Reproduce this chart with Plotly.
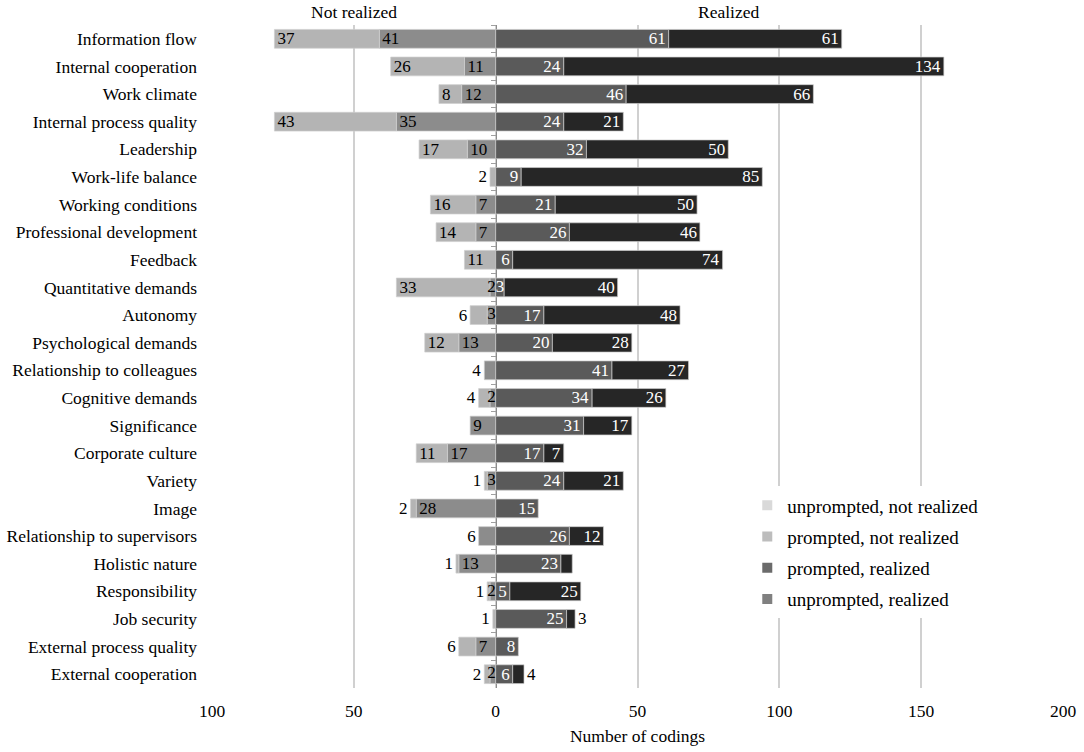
import plotly.graph_objects as go

categories = [
    "Information flow", "Internal cooperation", "Work climate", "Internal process quality",
    "Leadership", "Work-life balance", "Working conditions", "Professional development",
    "Feedback", "Quantitative demands", "Autonomy", "Psychological demands",
    "Relationship to colleagues", "Cognitive demands", "Significance", "Corporate culture",
    "Variety", "Image", "Relationship to supervisors", "Holistic nature",
    "Responsibility", "Job security", "External process quality", "External cooperation",
]
unprompted_not_realized = [37, 26, 8, 43, 17, 2, 16, 14, 11, 33, 6, 12, 0, 4, 0, 11, 1, 2, 0, 1, 1, 1, 6, 2]
prompted_not_realized = [41, 11, 12, 35, 10, 0, 7, 7, 0, 2, 3, 13, 4, 2, 9, 17, 3, 28, 6, 13, 2, 0, 7, 2]
prompted_realized = [61, 24, 46, 24, 32, 9, 21, 26, 6, 3, 17, 20, 41, 34, 31, 17, 24, 15, 26, 23, 5, 25, 8, 6]
unprompted_realized = [61, 134, 66, 21, 50, 85, 50, 46, 74, 40, 48, 28, 27, 26, 17, 7, 21, 0, 12, 4, 25, 3, 0, 4]
# segments the original leaves without a number
unlabeled = {("Holistic nature", "unprompted, realized")}

tick_vals = [-100, -50, 0, 50, 100, 150, 200]
tick_text = ["100", "50", "0", "50", "100", "150", "200"]

FONT = "Liberation Serif, Times New Roman, serif"
bar_colors = {
    "prompted, not realized": "#8c8c8c",
    "unprompted, not realized": "#b4b4b4",
    "prompted, realized": "#5a5a5a",
    "unprompted, realized": "#262626",
}
legend_colors = {
    "unprompted, not realized": "#d9d9d9",
    "prompted, not realized": "#bdbdbd",
    "prompted, realized": "#6b6b6b",
    "unprompted, realized": "#808080",
}

# inner segment first, so plotly stacks outward from zero
stacks = [
    ("prompted, not realized", prompted_not_realized, -1, "#000000"),
    ("unprompted, not realized", unprompted_not_realized, -1, "#000000"),
    ("prompted, realized", prompted_realized, 1, "#ffffff"),
    ("unprompted, realized", unprompted_realized, 1, "#ffffff"),
]


def outermost(inner, outer):
    return ["outer" if o else ("inner" if i else None) for i, o in zip(inner, outer)]


out_neg = outermost(prompted_not_realized, unprompted_not_realized)
out_pos = outermost(prompted_realized, unprompted_realized)

fig = go.Figure()
# labels of tiny inner segments, drawn on top, hugging the zero line
small_x, small_y, small_txt, small_col = [], [], [], []
for k, (name, vals, sign, txtcol) in enumerate(stacks):
    which = "inner" if k % 2 == 0 else "outer"
    outer_flags = out_neg if sign < 0 else out_pos
    xs, texts, pos = [], [], []
    for cat, v, flag in zip(categories, vals, outer_flags):
        xs.append(sign * v if v else None)
        label = "" if (not v or (cat, name) in unlabeled) else str(v)
        if flag == which and v <= 6:
            pos.append("outside")
        elif which == "inner" and 0 < v <= 3:
            pos.append("none")
            small_x.append(0 if sign < 0 else v)
            small_y.append(cat)
            small_txt.append(label)
            small_col.append(txtcol)
        else:
            pos.append("inside")
        texts.append(label)
    fig.add_trace(go.Bar(
        y=categories, x=xs, orientation="h", name=name, showlegend=False,
        marker=dict(color=bar_colors[name], line=dict(color="#cfcfcf", width=0.7)),
        text=texts, textposition=pos, insidetextanchor="end", textangle=0,
        insidetextfont=dict(family=FONT, size=17, color=txtcol),
        outsidetextfont=dict(family=FONT, size=17, color="#000000"),
        cliponaxis=False, hoverinfo="skip",
    ))

fig.add_trace(go.Scatter(
    x=small_x, y=small_y, text=small_txt, mode="text", textposition="middle left",
    textfont=dict(family=FONT, size=17, color=small_col),
    showlegend=False, hoverinfo="skip", cliponaxis=False,
))

for name in ["unprompted, not realized", "prompted, not realized", "prompted, realized", "unprompted, realized"]:
    fig.add_trace(go.Scatter(
        x=[None], y=[None], mode="markers", name=name, legendgroup=name,
        marker=dict(symbol="square", size=10, color=legend_colors[name]),
    ))

# invisible trace to carry the centre axis with its boundary ticks
fig.add_trace(go.Scatter(
    x=[0] * len(categories), y=categories, yaxis="y2", mode="markers",
    marker=dict(opacity=0), showlegend=False, hoverinfo="skip",
))

yrange = [23.5, -0.5]
fig.update_layout(
    width=1084, height=752,
    barmode="relative", bargap=0.32,
    paper_bgcolor="white", plot_bgcolor="white",
    margin=dict(l=212, r=21, t=25, b=64),
    font=dict(family=FONT, size=17, color="#000000"),
    uniformtext=dict(minsize=17, mode="show"),
    xaxis=dict(
        range=[-100, 200], tickvals=tick_vals, ticktext=tick_text,
        showgrid=True, gridcolor="#d0d0d0", gridwidth=1.5, zeroline=False,
        ticks="", tickfont=dict(size=17.5), ticklabelstandoff=10,
        title=dict(text="Number of codings", font=dict(size=17.5), standoff=10),
        automargin=False,
    ),
    yaxis=dict(
        type="category", categoryarray=categories, range=yrange,
        showgrid=False, showline=False, ticks="", ticklabelstandoff=14,
        tickfont=dict(size=17.5), automargin=False,
    ),
    yaxis2=dict(
        type="category", categoryarray=categories, range=yrange,
        overlaying="y", anchor="free", position=1 / 3, side="left",
        showline=True, linecolor="#8c8c8c", linewidth=1,
        ticks="outside", ticklen=5, tickcolor="#a0a0a0", tickson="boundaries",
        showticklabels=False, showgrid=False, layer="below traces",
        automargin=False,
    ),
    legend=dict(
        x=0.629, y=0.304, xanchor="left", yanchor="top",
        bgcolor="white", font=dict(size=19), tracegroupgap=3.5,
        itemclick=False,
    ),
    annotations=[
        dict(text="Not realized", x=-50, xref="x", y=1.0196, yref="paper",
             showarrow=False, font=dict(size=17.5), yanchor="middle"),
        dict(text="Realized", x=82, xref="x", y=1.0196, yref="paper",
             showarrow=False, font=dict(size=17.5), yanchor="middle"),
    ],
)

# the page's default body margin would push the figure off the window
fig.write_html(
    "out.html",
    config={"displayModeBar": False},
    post_script="document.body.style.margin = '0';",
)
